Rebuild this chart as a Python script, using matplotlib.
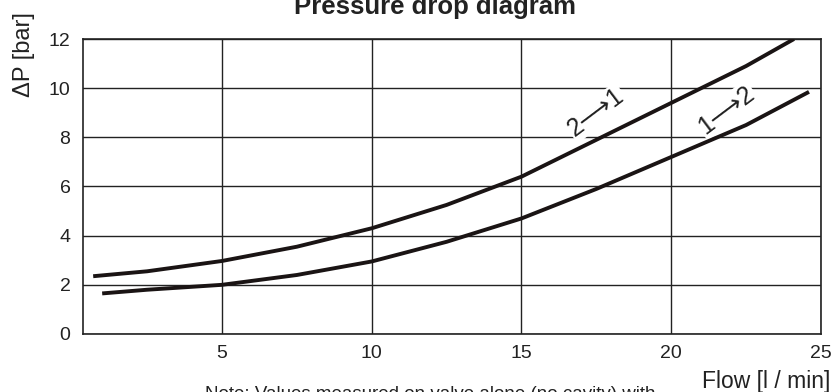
import matplotlib
matplotlib.use("Agg")
import matplotlib.pyplot as plt

# ─────────────────────────────────────────────
# DATA
# ─────────────────────────────────────────────
flow_21 = [0.7, 2.5, 5, 7.5, 10, 12.5, 15, 17.5, 20, 22.5, 24.1]
dp_21 = [2.35, 2.55, 2.97, 3.55, 4.3, 5.25, 6.4, 7.9, 9.4, 10.9, 12.0]

flow_12 = [1.0, 2.5, 5, 7.5, 10, 12.5, 15, 17.5, 20, 22.5, 24.6]
dp_12 = [1.65, 1.8, 2.0, 2.4, 2.95, 3.75, 4.7, 5.9, 7.2, 8.5, 9.85]

x_ticks = [5, 10, 15, 20, 25]
y_ticks = [0, 2, 4, 6, 8, 10, 12]

plt.rcParams["font.family"] = ["Liberation Sans", "DejaVu Sans"]

fig = plt.figure(figsize=(8.35, 3.92), dpi=100)
ax = fig.add_axes([0.0994, 0.148, 0.8838, 0.7525])

ax.set_xlim(0.36, 25)
ax.set_ylim(0, 12)
ax.set_xticks(x_ticks)
ax.set_yticks(y_ticks)
ax.tick_params(length=0, labelsize=14, colors="#222222")
ax.tick_params(axis="x", pad=8)
ax.tick_params(axis="y", pad=9)

for s in ax.spines.values():
    s.set_color("#222222")
    s.set_linewidth(1.2)

# grid
ax.grid(True, color="#222222", linewidth=1.0, zorder=1)
ax.set_axisbelow(True)

# curves
ax.plot(flow_21, dp_21, color="#1a1414", linewidth=2.8, solid_capstyle="butt", zorder=4)
ax.plot(flow_12, dp_12, color="#1a1414", linewidth=2.8, solid_capstyle="butt", zorder=4)

# curve labels (white box cuts the grid lines)
ax.text(17.5, 9.0, "2\u27f61", fontsize=18, rotation=37, ha="center", va="center",
        color="#222222", zorder=3,
        bbox=dict(facecolor="white", edgecolor="none", pad=1))
ax.text(21.85, 9.1, "1\u27f62", fontsize=18, rotation=37, ha="center", va="center",
        color="#222222", zorder=3,
        bbox=dict(facecolor="white", edgecolor="none", pad=1))

# titles / labels
fig.text(0.521, 0.964, "Pressure drop diagram", fontsize=18.5, fontweight="bold",
         ha="center", va="baseline", color="#222222")
fig.text(0.029, 0.86, "\u0394P [bar]", fontsize=17, rotation=90,
         ha="center", va="center", color="#222222")
fig.text(0.9175, 0.0102, "Flow [l / min]", fontsize=16.5, ha="center", va="baseline",
         color="#222222")
fig.text(0.515, -0.019, "Note: Values measured on valve alone (no cavity) with",
         fontsize=13.5, ha="center", va="baseline", color="#222222")

fig.savefig("out.png", dpi=100)
